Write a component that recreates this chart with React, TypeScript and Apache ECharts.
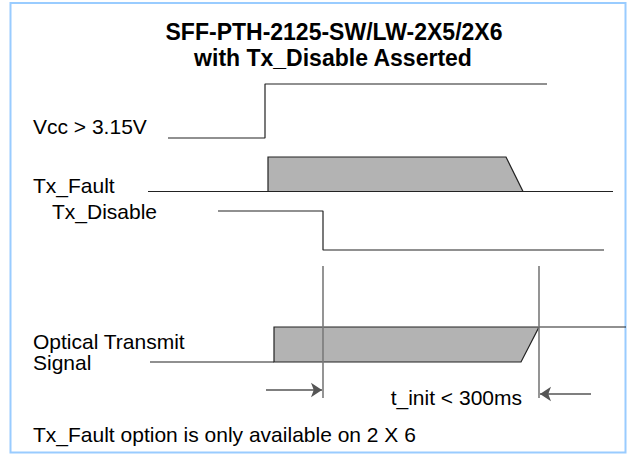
import React, { useEffect, useRef } from "react";
import * as echarts from "echarts";

// Diagram axes: x = time (diagram units), y = signal level position (diagram units, top-down)
const X_MAX = 627;
const Y_MAX = 454;

const titleLines = ["SFF-PTH-2125-SW/LW-2X5/2X6", "with Tx_Disable Asserted"];
const signalLabels = ["Vcc > 3.15V", "Tx_Fault", "Tx_Disable", "Optical Transmit\nSignal"];
const timingLabel = "t_init < 300ms";
const footnote = "Tx_Fault option is only available on 2 X 6";

// Waveforms as [time, level]
const vccWave: number[][] = [[168, 138], [265, 138], [265, 84], [547, 84]];
const faultBase: number[][] = [[148, 191.5], [613, 191.5]];
const faultPulse: number[][] = [[268, 191.5], [268, 157], [506, 157], [523, 191.5]];
const disableWave: number[][] = [[218, 211], [323, 211], [323, 250], [604, 250]];
const opticalLow: number[][] = [[150, 362], [274, 362]];
const opticalPulse: number[][] = [[274, 362], [274, 327], [539, 327], [521, 362]];
const opticalHigh: number[][] = [[539, 327], [626, 327]];

// Timing markers at these times, spanning these levels
const markerTimes = [323, 539];
const markerSpan = [266, 398];

// Arrows: [[fromT, level], [toT, level]]
const arrowRight: number[][] = [[266, 390], [322, 390]];
const arrowLeft: number[][] = [[591, 394], [540, 394]];

export default function App() {
  const ref = useRef<HTMLDivElement>(null);
  useEffect(() => {
    if (!ref.current) return;
    const chart = echarts.init(ref.current, null, { renderer: "svg" });
    const lineColor = "#222";
    const lineSeries = (data: number[][], color = lineColor, width = 1.2) => ({
      type: "line",
      data,
      symbol: "none",
      silent: true,
      lineStyle: { color, width },
      z: 3,
    });
    const polygonSeries = (pts: number[][]) => ({
      type: "custom",
      silent: true,
      data: [0],
      z: 2,
      renderItem: (params: any, api: any) => ({
        type: "polygon",
        shape: { points: pts.map((p) => api.coord(p)) },
        style: { fill: "#b3b3b3", stroke: lineColor, lineWidth: 1.2 },
      }),
    });
    const font = "21px 'Liberation Sans', Arial, sans-serif";
    const text = (t: string, x: number, y: number, align = "left", f = font, lh = 21) => ({
      type: "text",
      x,
      y,
      silent: true,
      style: { text: t, font: f, fill: "#000", align, verticalAlign: "middle", lineHeight: lh },
    });
    const titleFont = "bold 23px 'Liberation Sans', Arial, sans-serif";
    chart.setOption({
      animation: false,
      backgroundColor: "#ffffff",
      grid: { left: 0, right: 0, top: 0, bottom: 0 },
      xAxis: { type: "value", min: 0, max: X_MAX, show: false },
      yAxis: { type: "value", min: 0, max: Y_MAX, inverse: true, show: false },
      series: [
        polygonSeries(faultPulse),
        polygonSeries(opticalPulse),
        lineSeries(vccWave),
        lineSeries(faultBase),
        lineSeries(disableWave),
        lineSeries(opticalLow),
        lineSeries(opticalHigh),
        {
          type: "lines",
          coordinateSystem: "cartesian2d",
          silent: true,
          z: 4,
          data: markerTimes.map((t) => ({ coords: [[t, markerSpan[0]], [t, markerSpan[1]]] })),
          lineStyle: { color: "#7a7a7a", width: 1.6, opacity: 1 },
          symbol: "none",
        },
        {
          type: "lines",
          coordinateSystem: "cartesian2d",
          silent: true,
          z: 4,
          data: [{ coords: arrowRight }, { coords: arrowLeft }],
          lineStyle: { color: "#555", width: 1.6, opacity: 1 },
          symbol: ["none", "arrow"],
          symbolSize: 11,
          itemStyle: { color: "#000" },
        },
      ],
      graphic: [
        {
          type: "rect",
          silent: true,
          shape: { x: 10.5, y: 3, width: 615, height: 449.5 },
          style: { fill: "none", stroke: "#99ccff", lineWidth: 2 },
        },
        text(titleLines[0], 334, 32, "center", titleFont),
        text(titleLines[1], 333, 58, "center", titleFont),
        text(signalLabels[0], 33, 126, "left"),
        text(signalLabels[1], 33, 185, "left"),
        text(signalLabels[2], 52, 211.5, "left"),
        text(signalLabels[3], 33, 352, "left"),
        text(timingLabel, 522, 397, "right"),
        text(footnote, 33, 434, "left"),
      ],
    });
    return () => chart.dispose();
  }, []);
  return (
    <div
      ref={ref}
      style={{ position: "fixed", left: 0, top: 0, width: 627, height: 454 }}
    />
  );
}
